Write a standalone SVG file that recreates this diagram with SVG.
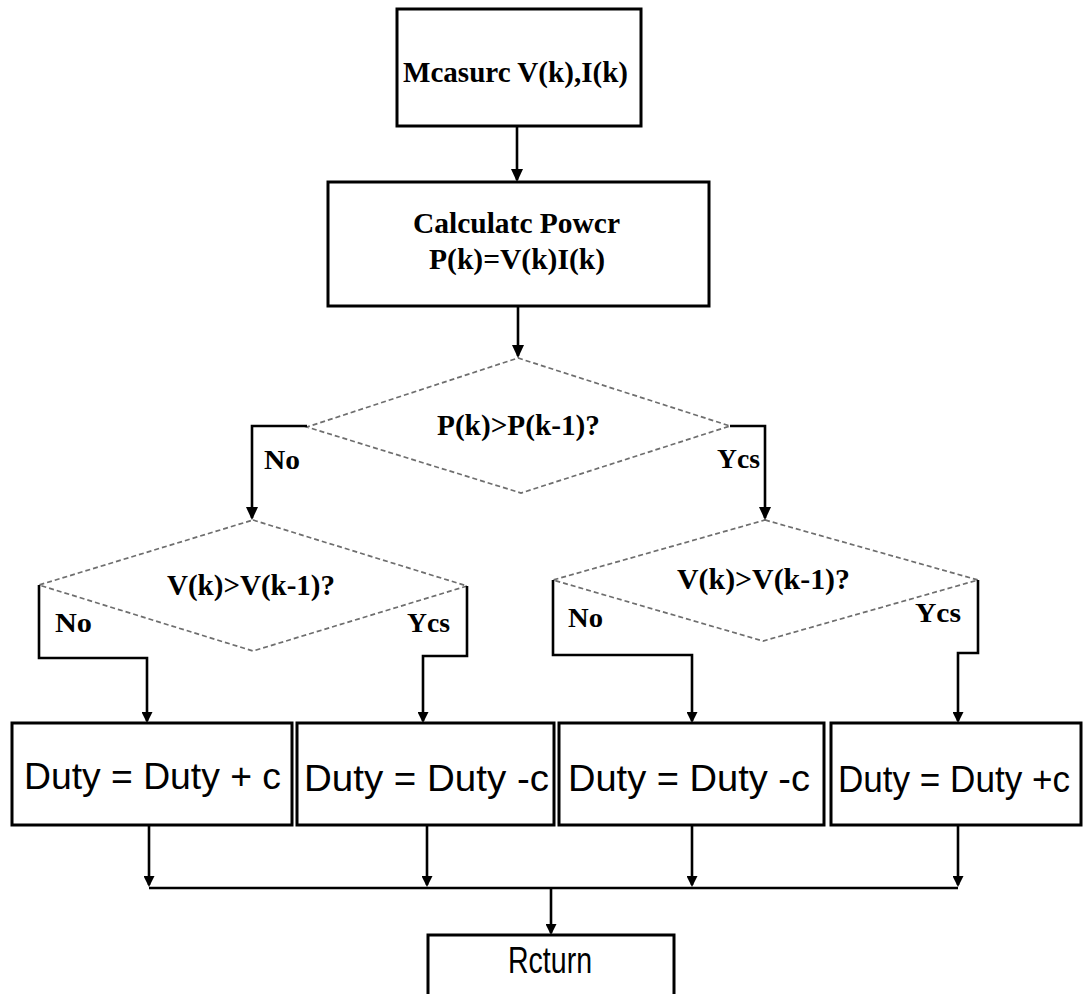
<svg xmlns="http://www.w3.org/2000/svg" width="1084" height="994" viewBox="0 0 1084 994">
  <style>
    .box { fill: #fff; stroke: #000; stroke-width: 3; }
    .dia { fill: #fff; stroke: #6e6e6e; stroke-width: 1.7; stroke-dasharray: 5 3; }
    .con { fill: none; stroke: #000; stroke-width: 2.6; }
    .serif { font-family: "Liberation Serif", "Times New Roman", serif; font-weight: bold; font-size: 30px; fill: #000; }
    .lbl { font-family: "Liberation Serif", "Times New Roman", serif; font-weight: bold; font-size: 28px; fill: #000; }
    .sans { font-family: "Liberation Sans", Arial, sans-serif; font-size: 36px; fill: #000; }
  </style>
  <defs>
    <marker id="arr" viewBox="0 0 13 12" refX="11" refY="6" markerWidth="13" markerHeight="12" markerUnits="userSpaceOnUse" orient="auto">
      <path d="M0,0 L13,6 L0,12 z" fill="#000"/>
    </marker>
    <marker id="arrs" viewBox="0 0 11 11" refX="9" refY="5.5" markerWidth="11" markerHeight="11" markerUnits="userSpaceOnUse" orient="auto">
      <path d="M0,0 L11,5.5 L0,11 z" fill="#000"/>
    </marker>
  </defs>

  <g id="measure">
    <rect class="box" x="397" y="9" width="244" height="117"/>
    <text class="serif" x="515.5" y="82" text-anchor="middle" textLength="225" lengthAdjust="spacingAndGlyphs">Mcasurc V(k),I(k)</text>
  </g>

  <g id="calc">
    <rect class="box" x="328" y="182" width="381" height="124"/>
    <text class="serif" x="516.5" y="233" text-anchor="middle" textLength="207" lengthAdjust="spacingAndGlyphs">Calculatc Powcr</text>
    <text class="serif" x="517" y="269" text-anchor="middle" textLength="176" lengthAdjust="spacingAndGlyphs">P(k)=V(k)I(k)</text>
  </g>

  <g id="dec1">
    <polygon class="dia" points="518,358 730,426 521,493 307,427"/>
    <text class="serif" x="518.5" y="435" text-anchor="middle" textLength="163" lengthAdjust="spacingAndGlyphs">P(k)&gt;P(k-1)?</text>
  </g>

  <g id="dec2">
    <polygon class="dia" points="253,520 467,586 253,651 39,585"/>
    <text class="serif" x="251" y="595" text-anchor="middle" textLength="168" lengthAdjust="spacingAndGlyphs">V(k)&gt;V(k-1)?</text>
  </g>

  <g id="dec3">
    <polygon class="dia" points="765,520 978,580 763,641 553,580"/>
    <text class="serif" x="763.5" y="589" text-anchor="middle" textLength="173" lengthAdjust="spacingAndGlyphs">V(k)&gt;V(k-1)?</text>
  </g>

  <g id="dutyA">
    <rect class="box" x="12" y="723" width="280" height="102"/>
    <text class="sans" x="24" y="789" textLength="257" lengthAdjust="spacingAndGlyphs">Duty = Duty + c</text>
  </g>
  <g id="dutyB">
    <rect class="box" x="297" y="723" width="257" height="102"/>
    <text class="sans" x="304" y="791" textLength="245" lengthAdjust="spacingAndGlyphs">Duty = Duty -c</text>
  </g>
  <g id="dutyC">
    <rect class="box" x="559" y="723" width="265" height="102"/>
    <text class="sans" x="568" y="791" textLength="242" lengthAdjust="spacingAndGlyphs">Duty = Duty -c</text>
  </g>
  <g id="dutyD">
    <rect class="box" x="831" y="723" width="250" height="102"/>
    <text class="sans" x="838" y="792" font-size="35" textLength="232" lengthAdjust="spacingAndGlyphs">Duty = Duty +c</text>
  </g>

  <g id="return">
    <rect class="box" x="428" y="935" width="246" height="70"/>
    <text class="sans" x="550" y="973" text-anchor="middle" font-size="27" textLength="84" lengthAdjust="spacingAndGlyphs">Rcturn</text>
  </g>

  <g id="connectors">
    <path class="con" d="M517,126 V180" marker-end="url(#arr)"/>
    <path class="con" d="M518,306 V356" marker-end="url(#arr)"/>
    <path class="con" d="M307,426 H252 V518" marker-end="url(#arr)"/>
    <path class="con" d="M730,426 H765 V518" marker-end="url(#arr)"/>
    <path class="con" d="M39,585 V658 H147 V721" marker-end="url(#arrs)"/>
    <path class="con" d="M467,586 V656 H423 V721" marker-end="url(#arrs)"/>
    <path class="con" d="M553,580 V655 H692 V721" marker-end="url(#arrs)"/>
    <path class="con" d="M978,580 V653 H958 V721" marker-end="url(#arrs)"/>
    <path class="con" d="M149,825 V885" marker-end="url(#arrs)"/>
    <path class="con" d="M427,825 V885" marker-end="url(#arrs)"/>
    <path class="con" d="M692,825 V885" marker-end="url(#arrs)"/>
    <path class="con" d="M958,825 V885" marker-end="url(#arrs)"/>
    <path class="con" d="M149,888 H958"/>
    <path class="con" d="M551,888 V933" marker-end="url(#arrs)"/>
  </g>

  <g id="labels">
    <text class="lbl" x="264" y="469" textLength="36" lengthAdjust="spacingAndGlyphs">No</text>
    <text class="lbl" x="717" y="468" textLength="43" lengthAdjust="spacingAndGlyphs">Ycs</text>
    <text class="lbl" x="55" y="632" textLength="37" lengthAdjust="spacingAndGlyphs">No</text>
    <text class="lbl" x="407" y="632" textLength="43" lengthAdjust="spacingAndGlyphs">Ycs</text>
    <text class="lbl" x="568" y="627" textLength="35" lengthAdjust="spacingAndGlyphs">No</text>
    <text class="lbl" x="915" y="622" textLength="46" lengthAdjust="spacingAndGlyphs">Ycs</text>
  </g>
</svg>
